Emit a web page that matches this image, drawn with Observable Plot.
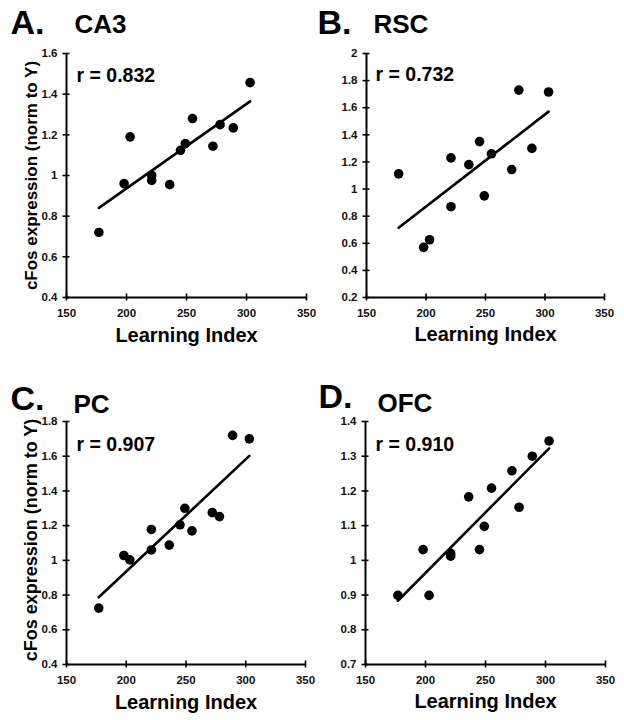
<!DOCTYPE html>
<html>
<head>
<meta charset="utf-8">
<script src="https://cdn.jsdelivr.net/npm/d3@7"></script>
<script src="https://cdn.jsdelivr.net/npm/@observablehq/plot@0.6"></script>
<style>
  html, body { margin: 0; padding: 0; background: #fff; }
  #wrap { position: relative; width: 624px; height: 720px; background: #fff; }
  .panel { position: absolute; width: 312px; height: 360px; }
  .panel svg { overflow: visible; }
</style>
</head>
<body>
<div id="wrap"></div>
<script>
// Shared x values (Learning Index)
const learningIndex = [177, 198, 203, 221, 221, 236, 245, 249, 255, 272, 278, 289, 303];
// Per-region cFos expression (norm to Y)
const ca3 = [0.72, 0.96, 1.19, 1.00, 0.976, 0.955, 1.124, 1.157, 1.28, 1.144, 1.25, 1.234, 1.457];
const rsc = [1.112, 0.57, 0.626, 1.23, 0.87, 1.18, 1.35, 0.95, 1.26, 1.144, 1.73, 1.30, 1.716];
const pc  = [0.725, 1.028, 1.003, 1.178, 1.06, 1.088, 1.205, 1.30, 1.17, 1.275, 1.252, 1.72, 1.70];
const ofc = [0.899, 1.031, 0.899, 1.012, 1.02, 1.183, 1.031, 1.098, 1.208, 1.258, 1.153, 1.30, 1.344];

const panelLetters = ["A.", "B.", "C.", "D."];
const panelNames = ["CA3", "RSC", "PC", "OFC"];
const rLabels = ["r = 0.832", "r = 0.732", "r = 0.907", "r = 0.910"];
const xTicks = [150, 200, 250, 300, 350];
const yTicksA = [0.4, 0.6, 0.8, 1.0, 1.2, 1.4, 1.6];
const yTicksB = [0.2, 0.4, 0.6, 0.8, 1.0, 1.2, 1.4, 1.6, 1.8, 2.0];
const yTicksC = [0.4, 0.6, 0.8, 1.0, 1.2, 1.4, 1.6, 1.8];
const yTicksD = [0.7, 0.8, 0.9, 1.0, 1.1, 1.2, 1.3, 1.4];
const xLabel = "Learning Index";
const yLabel = "cFos expression (norm to Y)";

const panels = [
  {values: ca3, yTicks: yTicksA, left: 0, top: 0, ml: 66, mr: 6, mt: 53, mb: 63,
   letter: [-56, -20], name: [8, -21], r: [10, 28], yl: true, ylDy: 0, xlDy: 44, ylFont: 17},
  {values: rsc, yTicks: yTicksB, left: 312, top: 0, ml: 54, mr: 20, mt: 53, mb: 63,
   letter: [-49, -20], name: [7, -21], r: [9, 27], yl: false, xlDy: 43},
  {values: pc, yTicks: yTicksC, left: 0, top: 360, ml: 66, mr: 7, mt: 61, mb: 56,
   letter: [-56, -12], name: [7, -9], r: [10, 29], yl: true, ylDy: -3, xlDy: 44, ylFont: 18},
  {values: ofc, yTicks: yTicksD, left: 312, top: 360, ml: 53, mr: 19, mt: 61, mb: 56,
   letter: [-47, -14], name: [12, -10], r: [10, 29], yl: false, xlDy: 43}
];

const fmt = d => String(+d.toFixed(1));
const wrap = document.getElementById("wrap");

panels.forEach((p, i) => {
  const data = learningIndex.map((x, j) => ({x, y: p.values[j]}));
  const yMin = p.yTicks[0], yMax = p.yTicks[p.yTicks.length - 1];
  const marks = [
    Plot.ruleX([150], {stroke: "black", strokeWidth: 2}),
    Plot.ruleY([yMin], {stroke: "black", strokeWidth: 2}),
    Plot.ruleX(xTicks, {x: d => d, y1: yMin, y2: yMin, insetTop: -3.5, insetBottom: -3.5, stroke: "black", strokeWidth: 1.6}),
    Plot.ruleY(p.yTicks, {y: d => d, x1: 150, x2: 150, insetLeft: -3.5, insetRight: -3.5, stroke: "black", strokeWidth: 1.6}),
    Plot.axisX({ticks: xTicks, tickSize: 0, tickPadding: 11, tickFormat: d => String(d), label: null, fill: "#111", fontSize: 11.5}),
    Plot.axisY({ticks: p.yTicks, tickSize: 0, tickPadding: 9, tickFormat: fmt, label: null, fill: "#111", fontSize: 11.5}),
    Plot.linearRegressionY(data, {x: "x", y: "y", ci: 0, stroke: "black", strokeWidth: 2.6}),
    Plot.dot(data, {x: "x", y: "y", r: 4.8, fill: "black", stroke: "none"}),
    Plot.text([panelLetters[i]], {frameAnchor: "top-left", textAnchor: "start", lineAnchor: "bottom", dx: p.letter[0], dy: p.letter[1], fontSize: 34, fill: "black"}),
    Plot.text([panelNames[i]], {frameAnchor: "top-left", textAnchor: "start", lineAnchor: "bottom", dx: p.name[0], dy: p.name[1], fontSize: 26, fill: "black"}),
    Plot.text([rLabels[i]], {frameAnchor: "top-left", textAnchor: "start", lineAnchor: "bottom", dx: p.r[0], dy: p.r[1], fontSize: 19.5, fill: "black"}),
    Plot.text([xLabel], {frameAnchor: "bottom", textAnchor: "middle", lineAnchor: "bottom", dy: p.xlDy, fontSize: 20, fill: "black"})
  ];
  if (p.yl) {
    marks.push(Plot.text([yLabel], {frameAnchor: "left", textAnchor: "middle", lineAnchor: "middle", rotate: -90, dx: -35, dy: p.ylDy, fontSize: p.ylFont, fill: "black"}));
  }
  const chart = Plot.plot({
    width: 312,
    height: 360,
    marginLeft: p.ml, marginRight: p.mr, marginTop: p.mt, marginBottom: p.mb,
    x: {domain: [150, 350]},
    y: {domain: [yMin, yMax]},
    style: {fontFamily: "'Liberation Sans', Arial, sans-serif", fontWeight: "bold", fontSize: "11.5px", background: "transparent", overflow: "visible"},
    marks
  });
  const div = document.createElement("div");
  div.className = "panel";
  div.style.left = p.left + "px";
  div.style.top = p.top + "px";
  div.appendChild(chart);
  wrap.appendChild(div);
});
</script>
</body>
</html>
